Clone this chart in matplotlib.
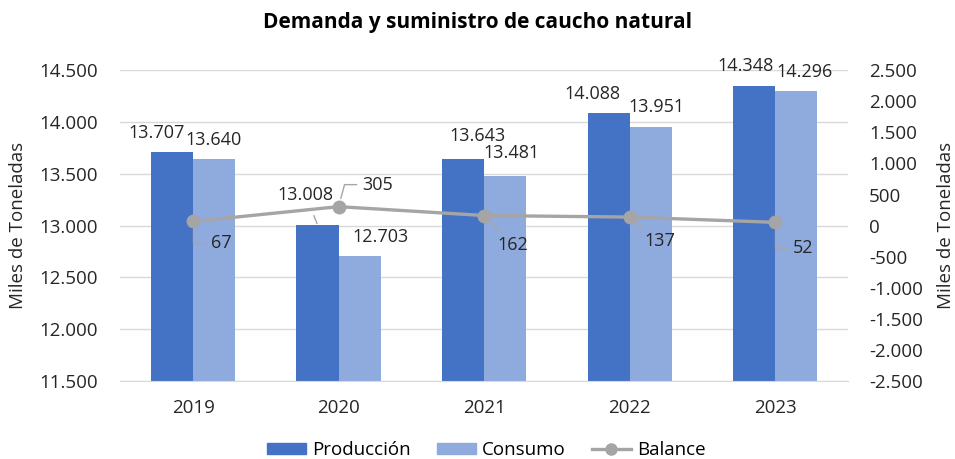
import numpy as np
import matplotlib.pyplot as plt
from matplotlib.lines import Line2D
from matplotlib.patches import Patch

plt.rcParams['font.family'] = ['Open Sans', 'DejaVu Sans']

years = ['2019', '2020', '2021', '2022', '2023']
produccion = [13707, 13008, 13643, 14088, 14348]
consumo = [13640, 12703, 13481, 13951, 14296]
balance = [67, 305, 162, 137, 52]

c_prod = '#4472C4'
c_cons = '#8FAADC'
c_bal = '#A5A5A5'
c_lead = '#A6A6A6'
c_txt = '#262626'

def fmt(v):
    return f'{v:,}'.replace(',', '.')

fig = plt.figure(figsize=(9.55, 4.59), dpi=100)
ax = fig.add_axes([0.126, 0.170, 0.762, 0.677])
ax2 = ax.twinx()

x = np.arange(len(years))
w = 0.29
ax.bar(x - w / 2, produccion, w, color=c_prod, zorder=2)
ax.bar(x + w / 2, consumo, w, color=c_cons, zorder=2)
ax.set_ylim(11500, 14500)
ax.set_yticks(np.arange(11500, 14501, 500))
ax.set_yticklabels([fmt(v) for v in range(11500, 14501, 500)])
ax.set_xlim(-0.5, 4.5)
ax.set_xticks(x)
ax.set_xticklabels(years)
ax.grid(axis='y', color='#D9D9D9', lw=1, zorder=0)
ax.set_axisbelow(True)

ax2.plot(x, balance, color=c_bal, lw=2.4, marker='o', ms=9, zorder=5)
ax2.set_ylim(-2500, 2500)
ax2.set_yticks(np.arange(-2500, 2501, 500))
ax2.set_yticklabels([fmt(v) for v in range(-2500, 2501, 500)])

for a in (ax, ax2):
    for s in a.spines.values():
        s.set_visible(False)
    a.tick_params(length=0, labelsize=13.5, colors=c_txt)
ax.tick_params(axis='y', pad=16)
ax.tick_params(axis='x', pad=13)
ax2.tick_params(axis='y', pad=15)
ax.spines['bottom'].set_visible(True)
ax.spines['bottom'].set_color('#D9D9D9')

ax.set_ylabel('Miles de Toneladas', fontsize=13.5, color=c_txt)
ax2.set_ylabel('Miles de Toneladas', fontsize=13.5, color=c_txt)
ax.yaxis.set_label_coords(-0.128, 0.5)
ax2.yaxis.set_label_coords(1.122, 0.5)

# bar labels: pixel offsets from the bar top centre
prod_off = [(-15, 19), (-12, 30), (14, 23), (-16, 19), (-9, 20)]
cons_off = [(-1, 19), (21, 19), (6, 23), (6, 20), (8, 19)]
for i in range(len(years)):
    dx, dy = prod_off[i]
    props = None
    if i == 1:
        props = dict(arrowstyle='-', color=c_lead, lw=1, shrinkA=7, shrinkB=1)
    ax.annotate(fmt(produccion[i]), xy=(x[i] - w / 2, produccion[i]),
                xytext=(dx, dy), textcoords='offset pixels',
                ha='center', va='center', fontsize=13, color=c_txt,
                arrowprops=props, zorder=6)
    dx, dy = cons_off[i]
    ax.annotate(fmt(consumo[i]), xy=(x[i] + w / 2, consumo[i]),
                xytext=(dx, dy), textcoords='offset pixels',
                ha='center', va='center', fontsize=13, color=c_txt, zorder=6)

# balance labels with leader lines
bal_off = [(28, -22), (39, 22), (29, -29), (30, -24), (28, -26)]
bal_conn = ['angle,angleA=0,angleB=90', 'angle,angleA=0,angleB=75',
            'arc3', 'arc3', 'angle,angleA=0,angleB=90']
for i in range(len(years)):
    dx, dy = bal_off[i]
    ax2.annotate(fmt(balance[i]), xy=(x[i], balance[i]),
                 xytext=(dx, dy), textcoords='offset pixels',
                 ha='center', va='center', fontsize=13, color=c_txt, zorder=6,
                 arrowprops=dict(arrowstyle='-', color=c_lead, lw=1,
                                 connectionstyle=bal_conn[i],
                                 shrinkA=2, shrinkB=6))

fig.text(0.5, 0.952, 'Demanda y suministro de caucho natural', fontsize=15,
         fontweight='bold', color='black', ha='center', va='center')

handles = [Patch(color=c_prod, label='Producción'),
           Patch(color=c_cons, label='Consumo'),
           Line2D([], [], color=c_bal, lw=2.4, marker='o', ms=8, label='Balance')]
fig.legend(handles=handles, loc='center', ncol=3, frameon=False,
           fontsize=13.5, bbox_to_anchor=(0.509, 0.02), handlelength=2.1,
           handleheight=0.55, columnspacing=1.4, handletextpad=0.3)

fig.savefig('out.png', dpi=100, facecolor='white')
